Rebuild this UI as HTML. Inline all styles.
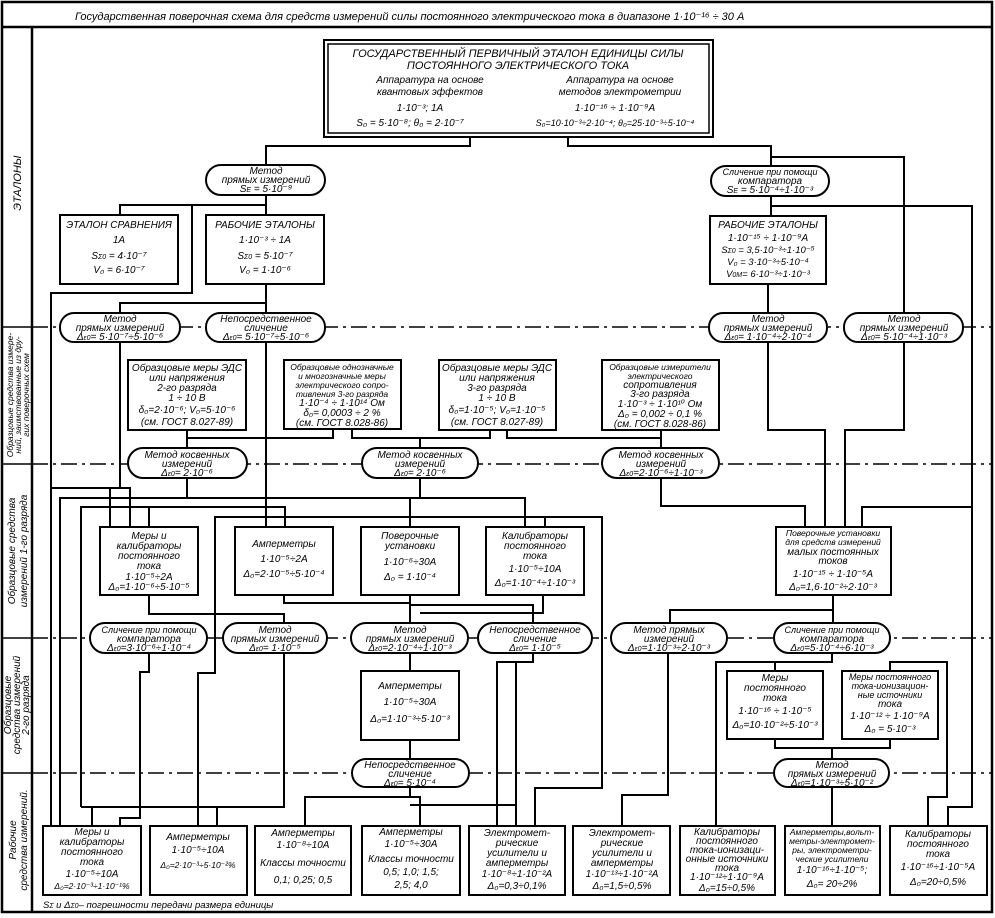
<!DOCTYPE html>
<html><head><meta charset="utf-8"><style>
html,body{margin:0;padding:0;background:#fff}
svg{display:block}
text{font-family:"Liberation Sans","DejaVu Sans",sans-serif;font-style:italic;font-size:10px;fill:#000}
.b{fill:#fff;stroke:#000;stroke-width:2}
.p{fill:#fff;stroke:#000;stroke-width:2}
.l{fill:none;stroke:#000;stroke-width:2}
.d{fill:none;stroke:#000;stroke-width:1.6;stroke-dasharray:16 5 3 5}
.c text,.c{text-anchor:middle}
</style></head><body>
<svg width="995" height="918" viewBox="0 0 995 918" xmlns="http://www.w3.org/2000/svg">
<rect x="2" y="2" width="990" height="910" fill="none" stroke="#000" stroke-width="2.5"/>
<line x1="2" y1="27" x2="992" y2="27" stroke="#000" stroke-width="2.5"/>
<line x1="32" y1="27" x2="32" y2="912" stroke="#000" stroke-width="2.5"/>
<text x="75" y="20" style="font-size:11px">Государственная  поверочная  схема  для  средств  измерений  силы  постоянного   электрического  тока  в  диапазоне   1·10⁻¹⁶ ÷ 30 А</text>

<line class="d" x1="32" y1="327" x2="992" y2="327"/>
<line class="d" x1="32" y1="464" x2="992" y2="464"/>
<line class="d" x1="32" y1="638" x2="992" y2="638"/>
<line class="d" x1="32" y1="773" x2="992" y2="773"/>
<g stroke="#000" stroke-width="1.5">
<line x1="2" y1="327" x2="32" y2="327"/><line x1="2" y1="464" x2="32" y2="464"/>
<line x1="2" y1="638" x2="32" y2="638"/><line x1="2" y1="773" x2="32" y2="773"/>
</g>
<g class="c">
<text transform="translate(21,183) rotate(-90)" style="font-size:11px">ЭТАЛОНЫ</text>
<text transform="translate(13,395) rotate(-90)" style="font-size:8.5px">Образцовые средства измере-</text>
<text transform="translate(21,395) rotate(-90)" style="font-size:8.5px">ний, заимствованные из дру-</text>
<text transform="translate(29,395) rotate(-90)" style="font-size:8.5px">гих поверочных схем</text>
<text transform="translate(15,551) rotate(-90)">Образцовые  средства</text>
<text transform="translate(27,551) rotate(-90)">измерений  1-го разряда</text>
<text transform="translate(11,705) rotate(-90)">Образцовые</text>
<text transform="translate(20,705) rotate(-90)">средства измерений</text>
<text transform="translate(29,705) rotate(-90)">2-го  разряда</text>
<text transform="translate(16,840) rotate(-90)">Рабочие</text>
<text transform="translate(27,840) rotate(-90)">средства измерений.</text>
</g>

<g class="l">
<polyline points="470,137 470,146 266,146 266,165"/>
<polyline points="568,137 568,146 771,146 771,166"/>
<polyline points="771,157 904,157 904,313"/>
<polyline points="771,196 771,216"/>
<polyline points="771,206 972,206 972,807 948,807 948,826"/>
<polyline points="266,195 266,215"/>
<polyline points="120,215 120,205 266,205"/>
<polyline points="192,205 192,293 51,293 51,826"/>
<polyline points="266,284 266,313"/>
<polyline points="120,313 120,303 266,303"/>
<polyline points="120,342 120,488 52,488"/>
<polyline points="120,488 130,488 130,527"/>
<polyline points="266,342 266,527"/>
<polyline points="768,284 768,313"/>
<polyline points="768,342 768,430 825,430 825,527"/>
<polyline points="904,342 904,430 845,430 845,527"/>
<polyline points="187,430 187,448"/>
<polyline points="333,430 333,438 187,438"/>
<polyline points="352,430 352,438 490,438 490,430"/>
<polyline points="420,438 420,448"/>
<polyline points="507,430 507,438 661,438"/>
<polyline points="661,430 661,448"/>
<polyline points="187,478 187,498"/>
<polyline points="60,826 60,498 420,498 420,478"/>
<polyline points="410,498 410,527"/>
<polyline points="420,498 525,498 525,527"/>
<polyline points="81,807 81,507 285,507 285,527"/>
<polyline points="149,507 149,527"/>
<polyline points="110,488 110,527"/>
<polyline points="661,478 661,506 805,506 805,527"/>
<polyline points="862,527 862,507 972,507"/>
<polyline points="198,826 198,673 215,673 215,517 602,517 602,788 535,788 535,826"/>
<polyline points="545,517 545,527"/>
<polyline points="149,595 149,614 284,614 284,623"/>
<polyline points="284,595 284,603 410,603"/>
<polyline points="410,595 410,623"/>
<polyline points="410,605 533,605 533,623"/>
<polyline points="543,595 543,613 420,613"/>
<polyline points="833,595 833,610 670,610 670,623"/>
<polyline points="833,610 833,623"/>
<polyline points="81,807 92,807 92,826"/>
<polyline points="149,653 149,672 140,672 140,818 120,818 120,826"/>
<polyline points="284,653 284,807 81,807"/>
<polyline points="217,807 217,826"/>
<polyline points="410,653 410,671"/>
<polyline points="410,740 410,759"/>
<polyline points="410,787 410,797 305,797 305,826"/>
<polyline points="410,797 420,797 420,826"/>
<polyline points="410,805 515,805"/>
<polyline points="533,653 533,662 497,662 497,826"/>
<polyline points="516,662 516,826"/>
<polyline points="668,653 668,795 622,795 622,826"/>
<polyline points="832,653 832,662 716,662 716,826"/>
<polyline points="775,671 775,662"/>
<polyline points="890,671 890,662 947,662 947,797 928,797 928,826"/>
<polyline points="775,739 775,748 890,748 890,739"/>
<polyline points="832,748 832,759"/>
<polyline points="832,787 832,826"/>
</g>

<rect x="324" y="40" width="389" height="97" class="b" stroke-width="2.5"/>
<rect x="328" y="44" width="381" height="89" fill="none" stroke="#000" stroke-width="1.5"/>
<g class="c">
<text x="518" y="57" style="font-size:11px">ГОСУДАРСТВЕННЫЙ ПЕРВИЧНЫЙ ЭТАЛОН ЕДИНИЦЫ СИЛЫ</text>
<text x="518" y="69" style="font-size:11px">ПОСТОЯННОГО  ЭЛЕКТРИЧЕСКОГО  ТОКА</text>
<text x="430" y="83">Аппаратура на основе</text><text x="430" y="95">квантовых эффектов</text>
<text x="420" y="111">1·10⁻³;  1А</text><text x="410" y="126">S₀ = 5·10⁻⁸;     θ₀ = 2·10⁻⁷</text>
<text x="620" y="83">Аппаратура на основе</text><text x="620" y="95">методов электрометрии</text>
<text x="615" y="111">1·10⁻¹⁶ ÷ 1·10⁻⁹А</text><text x="615" y="126" style="font-size:9px">S₀=10·10⁻³÷2·10⁻⁴; θ₀=25·10⁻³÷5·10⁻⁴</text>
</g>

<g>
<rect class="p" x="206" y="165" width="119" height="30" rx="15"/>
<rect class="p" x="711" y="166" width="118" height="30" rx="15"/>
<rect class="p" x="60" y="313" width="120" height="29" rx="14"/>
<rect class="p" x="206" y="313" width="119" height="29" rx="14"/>
<rect class="p" x="709" y="313" width="118" height="29" rx="14"/>
<rect class="p" x="844" y="313" width="119" height="29" rx="14"/>
<rect class="p" x="128" y="448" width="119" height="30" rx="15"/>
<rect class="p" x="362" y="448" width="116" height="30" rx="15"/>
<rect class="p" x="602" y="448" width="117" height="30" rx="15"/>
<rect class="p" x="90" y="623" width="117" height="30" rx="15"/>
<rect class="p" x="223" y="623" width="104" height="30" rx="15"/>
<rect class="p" x="351" y="623" width="117" height="30" rx="15"/>
<rect class="p" x="478" y="623" width="114" height="30" rx="15"/>
<rect class="p" x="611" y="623" width="116" height="30" rx="15"/>
<rect class="p" x="774" y="623" width="116" height="30" rx="15"/>
<rect class="p" x="352" y="759" width="117" height="28" rx="14"/>
<rect class="p" x="774" y="759" width="115" height="28" rx="14"/>
</g>
<g class="c" style="font-size:9.5px">
<text x="266" y="174">Метод</text><text x="266" y="183">прямых измерений</text><text x="266" y="192">S<tspan style="font-size:7px">E</tspan> = 5·10⁻⁹</text>
<text x="770" y="175" style="font-size:9px">Сличение при помощи</text><text x="770" y="184">компаратора</text><text x="770" y="193">S<tspan style="font-size:7px">E</tspan> = 5·10⁻⁴÷1·10⁻³</text>
<text x="120" y="322">Метод</text><text x="120" y="331">прямых измерений</text><text x="120" y="340">Δ<tspan style="font-size:7px">ε0</tspan>= 5·10⁻⁷÷5·10⁻⁶</text>
<text x="266" y="322">Непосредственное</text><text x="266" y="331">сличение</text><text x="266" y="340">Δ<tspan style="font-size:7px">ε0</tspan>= 5·10⁻⁷÷5·10⁻⁶</text>
<text x="768" y="322">Метод</text><text x="768" y="331">прямых измерений</text><text x="768" y="340">Δ<tspan style="font-size:7px">ε0</tspan>= 1·10⁻⁴÷2·10⁻⁴</text>
<text x="904" y="322">Метод</text><text x="904" y="331">прямых измерений</text><text x="904" y="340">Δ<tspan style="font-size:7px">ε0</tspan>= 5·10⁻⁴÷1·10⁻³</text>
<text x="187" y="458">Метод косвенных</text><text x="187" y="467">измерений</text><text x="187" y="476">Δ<tspan style="font-size:7px">ε0</tspan>= 2·10⁻⁶</text>
<text x="420" y="458">Метод косвенных</text><text x="420" y="467">измерений</text><text x="420" y="476">Δ<tspan style="font-size:7px">ε0</tspan>= 2·10⁻⁶</text>
<text x="661" y="458">Метод косвенных</text><text x="661" y="467">измерений</text><text x="661" y="476">Δ<tspan style="font-size:7px">ε0</tspan>=2·10⁻⁶÷1·10⁻³</text>
<text x="149" y="633" style="font-size:9px">Сличение при помощи</text><text x="149" y="642">компаратора</text><text x="149" y="651">Δ<tspan style="font-size:7px">ε0</tspan>=3·10⁻⁶÷1·10⁻⁴</text>
<text x="275" y="633">Метод</text><text x="275" y="642">прямых измерений</text><text x="275" y="651">Δ<tspan style="font-size:7px">ε0</tspan>= 1·10⁻⁵</text>
<text x="410" y="633">Метод</text><text x="410" y="642">прямых измерений</text><text x="410" y="651">Δ<tspan style="font-size:7px">ε0</tspan>=2·10⁻⁴÷1·10⁻³</text>
<text x="535" y="633">Непосредственное</text><text x="535" y="642">сличение</text><text x="535" y="651">Δ<tspan style="font-size:7px">ε0</tspan>= 1·10⁻⁵</text>
<text x="669" y="633">Метод прямых</text><text x="669" y="642">измерений</text><text x="669" y="651">Δ<tspan style="font-size:7px">ε0</tspan>=1·10⁻³÷2·10⁻³</text>
<text x="832" y="633" style="font-size:9px">Сличение при помощи</text><text x="832" y="642">компаратора</text><text x="832" y="651">Δ<tspan style="font-size:7px">ε0</tspan>=5·10⁻⁴÷6·10⁻³</text>
<text x="410" y="768">Непосредственное</text><text x="410" y="777">сличение</text><text x="410" y="786">Δ<tspan style="font-size:7px">ε0</tspan>= 5·10⁻⁴</text>
<text x="832" y="768">Метод</text><text x="832" y="777">прямых измерений</text><text x="832" y="786">Δ<tspan style="font-size:7px">ε0</tspan>=1·10⁻³÷5·10⁻²</text>
</g>

<g>
<rect class="b" x="60" y="215" width="118" height="69"/>
<rect class="b" x="206" y="215" width="118" height="69"/>
<rect class="b" x="710" y="216" width="116" height="68"/>
<rect class="b" x="128" y="360" width="118" height="70"/>
<rect class="b" x="284" y="360" width="117" height="69"/>
<rect class="b" x="439" y="360" width="117" height="70"/>
<rect class="b" x="602" y="360" width="117" height="70"/>
<rect class="b" x="100" y="527" width="98" height="68"/>
<rect class="b" x="235" y="527" width="98" height="68"/>
<rect class="b" x="361" y="527" width="98" height="68"/>
<rect class="b" x="486" y="527" width="98" height="68"/>
<rect class="b" x="776" y="527" width="115" height="68"/>
<rect class="b" x="361" y="671" width="98" height="69"/>
<rect class="b" x="727" y="671" width="96" height="68"/>
<rect class="b" x="842" y="671" width="96" height="68"/>
<rect class="b" x="43" y="826" width="98" height="69"/>
<rect class="b" x="150" y="826" width="97" height="69"/>
<rect class="b" x="255" y="826" width="96" height="69"/>
<rect class="b" x="362" y="826" width="98" height="69"/>
<rect class="b" x="469" y="826" width="96" height="69"/>
<rect class="b" x="573" y="826" width="97" height="69"/>
<rect class="b" x="680" y="826" width="95" height="69"/>
<rect class="b" x="785" y="826" width="95" height="69"/>
<rect class="b" x="890" y="826" width="97" height="69"/>
</g>
<g class="c">
<text x="119" y="228">ЭТАЛОН СРАВНЕНИЯ</text><text x="119" y="243">1А</text><text x="119" y="259">S<tspan style="font-size:7px">Σ0</tspan> = 4·10⁻⁷</text><text x="119" y="273">V₀ = 6·10⁻⁷</text>
<text x="265" y="228">РАБОЧИЕ ЭТАЛОНЫ</text><text x="265" y="243">1·10⁻³ ÷ 1А</text><text x="265" y="259">S<tspan style="font-size:7px">Σ0</tspan> = 5·10⁻⁷</text><text x="265" y="273">V₀ = 1·10⁻⁶</text>
<text x="768" y="228">РАБОЧИЕ ЭТАЛОНЫ</text><text x="768" y="241">1·10⁻¹⁵ ÷ 1·10⁻⁹А</text><text x="768" y="253" style="font-size:9.5px">S<tspan style="font-size:7px">Σ0</tspan> = 3,5·10⁻³÷1·10⁻⁵</text><text x="768" y="265" style="font-size:9.5px">V₀ =  3·10⁻³÷5·10⁻⁴</text><text x="768" y="277" style="font-size:9.5px">V<tspan style="font-size:7px">0M</tspan>=  6·10⁻³÷1·10⁻³</text>
</g>
<g class="c" style="font-size:9.5px">
<text x="187" y="371">Образцовые меры ЭДС</text><text x="187" y="381">или напряжения</text><text x="187" y="391">2-го разряда</text><text x="187" y="401">1 ÷ 10 В</text><text x="187" y="413">δ₀=2·10⁻⁶;  V₀=5·10⁻⁶</text><text x="187" y="425">(см. ГОСТ 8.027-89)</text>
<text x="342" y="370" style="font-size:8.5px">Образцовые однозначные</text><text x="342" y="379" style="font-size:8.5px">и многозначные меры</text><text x="342" y="388" style="font-size:8.5px">электрического сопро-</text><text x="342" y="397" style="font-size:8.5px">тивления 3-го разряда</text><text x="342" y="406">1·10⁻⁴ ÷ 1·10¹⁴ Ом</text><text x="342" y="416">δ₀= 0,0003 ÷ 2 %</text><text x="342" y="426">(см. ГОСТ 8.028-86)</text>
<text x="497" y="371">Образцовые меры ЭДС</text><text x="497" y="381">или напряжения</text><text x="497" y="391">3-го разряда</text><text x="497" y="401">1 ÷ 10 В</text><text x="497" y="413">δ₀=1·10⁻⁵;  V₀=1·10⁻⁵</text><text x="497" y="425">(см. ГОСТ 8.027-89)</text>
<text x="660" y="370" style="font-size:8.5px">Образцовые измерители</text><text x="660" y="379" style="font-size:8.5px">электрического</text><text x="660" y="388">сопротивления</text><text x="660" y="397">3-го разряда</text><text x="660" y="407">1·10⁻³ ÷ 1·10¹⁰ Ом</text><text x="660" y="417">Δ₀ = 0,002 ÷ 0,1 %</text><text x="660" y="427">(см. ГОСТ 8.028-86)</text>
<text x="149" y="539">Меры и</text><text x="149" y="549">калибраторы</text><text x="149" y="559">постоянного</text><text x="149" y="569">тока</text><text x="149" y="580">1·10⁻⁵÷2А</text><text x="149" y="590">Δ₀=1·10⁻⁶÷5·10⁻⁵</text>
<text x="284" y="547">Амперметры</text><text x="284" y="562">1·10⁻⁵÷2А</text><text x="284" y="577">Δ₀=2·10⁻⁵÷5·10⁻⁴</text>
<text x="410" y="539">Поверочные</text><text x="410" y="549">установки</text><text x="410" y="565">1·10⁻⁶÷30А</text><text x="410" y="580">Δ₀ = 1·10⁻⁴</text>
<text x="535" y="539">Калибраторы</text><text x="535" y="549">постоянного</text><text x="535" y="559">тока</text><text x="535" y="572">1·10⁻⁵÷10А</text><text x="535" y="586">Δ₀=1·10⁻⁴÷1·10⁻³</text>
<text x="833" y="536" style="font-size:8.5px">Поверочные установки</text><text x="833" y="545" style="font-size:8.5px">для средств измерений</text><text x="833" y="555">малых постоянных</text><text x="833" y="564">токов</text><text x="833" y="577">1·10⁻¹⁵ ÷ 1·10⁻⁵А</text><text x="833" y="590">Δ₀=1,6·10⁻²÷2·10⁻³</text>
<text x="410" y="689">Амперметры</text><text x="410" y="705">1·10⁻⁵÷30А</text><text x="410" y="722">Δ₀=1·10⁻³÷5·10⁻³</text>
<text x="775" y="681">Меры</text><text x="775" y="691">постоянного</text><text x="775" y="701">тока</text><text x="775" y="714">1·10⁻¹⁶ ÷ 1·10⁻⁵</text><text x="775" y="728">Δ₀=10·10⁻²÷5·10⁻³</text>
<text x="890" y="680" style="font-size:9px">Меры постоянного</text><text x="890" y="689" style="font-size:9px">тока-ионизацион-</text><text x="890" y="698" style="font-size:9px">ные источники</text><text x="890" y="707">тока</text><text x="890" y="719">1·10⁻¹² ÷ 1·10⁻⁹А</text><text x="890" y="732">Δ₀ = 5·10⁻³</text>
<text x="92" y="835">Меры и</text><text x="92" y="845">калибраторы</text><text x="92" y="855">постоянного</text><text x="92" y="865">тока</text><text x="92" y="877">1·10⁻⁵÷10А</text><text x="92" y="889" style="font-size:8.5px">Δ₀=2·10⁻³÷1·10⁻¹%</text>
<text x="198" y="840">Амперметры</text><text x="198" y="853">1·10⁻⁵÷10А</text><text x="198" y="868" style="font-size:8.5px">Δ₀=2·10⁻³÷5·10⁻²%</text>
<text x="303" y="836">Амперметры</text><text x="303" y="848">1·10⁻⁸÷10А</text><text x="303" y="866">Классы точности</text><text x="303" y="883">0,1; 0,25; 0,5</text>
<text x="411" y="835">Амперметры</text><text x="411" y="847">1·10⁻⁵÷30А</text><text x="411" y="862">Классы точности</text><text x="411" y="875">0,5; 1,0; 1,5;</text><text x="411" y="888">2,5; 4,0</text>
<text x="517" y="836">Электромет-</text><text x="517" y="846">рические</text><text x="517" y="856">усилители и</text><text x="517" y="866">амперметры</text><text x="517" y="877">1·10⁻⁸÷1·10⁻²А</text><text x="517" y="889">Δ₀=0,3÷0,1%</text>
<text x="622" y="836">Электромет-</text><text x="622" y="846">рические</text><text x="622" y="856">усилители и</text><text x="622" y="866">амперметры</text><text x="622" y="877">1·10⁻¹³÷1·10⁻²А</text><text x="622" y="889">Δ₀=1,5÷0,5%</text>
<text x="727" y="835">Калибраторы</text><text x="727" y="844">постоянного</text><text x="727" y="853">тока-ионизаци-</text><text x="727" y="862">онные источники</text><text x="727" y="871">тока</text><text x="727" y="880">1·10⁻¹²÷1·10⁻⁹А</text><text x="727" y="891">Δ₀=15÷0,5%</text>
<text x="832" y="835" style="font-size:8.5px">Амперметры,вольт-</text><text x="832" y="844" style="font-size:8.5px">метры-электромет-</text><text x="832" y="853" style="font-size:8.5px">ры, электрометри-</text><text x="832" y="862" style="font-size:8.5px">ческие усилители</text><text x="832" y="873">1·10⁻¹⁶÷1·10⁻⁵;</text><text x="832" y="887">Δ₀= 20÷2%</text>
<text x="938" y="837">Калибраторы</text><text x="938" y="847">постоянного</text><text x="938" y="857">тока</text><text x="938" y="870">1·10⁻¹⁶÷1·10⁻⁵А</text><text x="938" y="885">Δ₀=20÷0,5%</text>
</g>
<text x="43" y="908" style="font-size:9.5px">S<tspan style="font-size:7px">Σ</tspan> и Δ<tspan style="font-size:7px">Σ0</tspan>– погрешности передачи размера единицы</text>
</svg>
</body></html>
